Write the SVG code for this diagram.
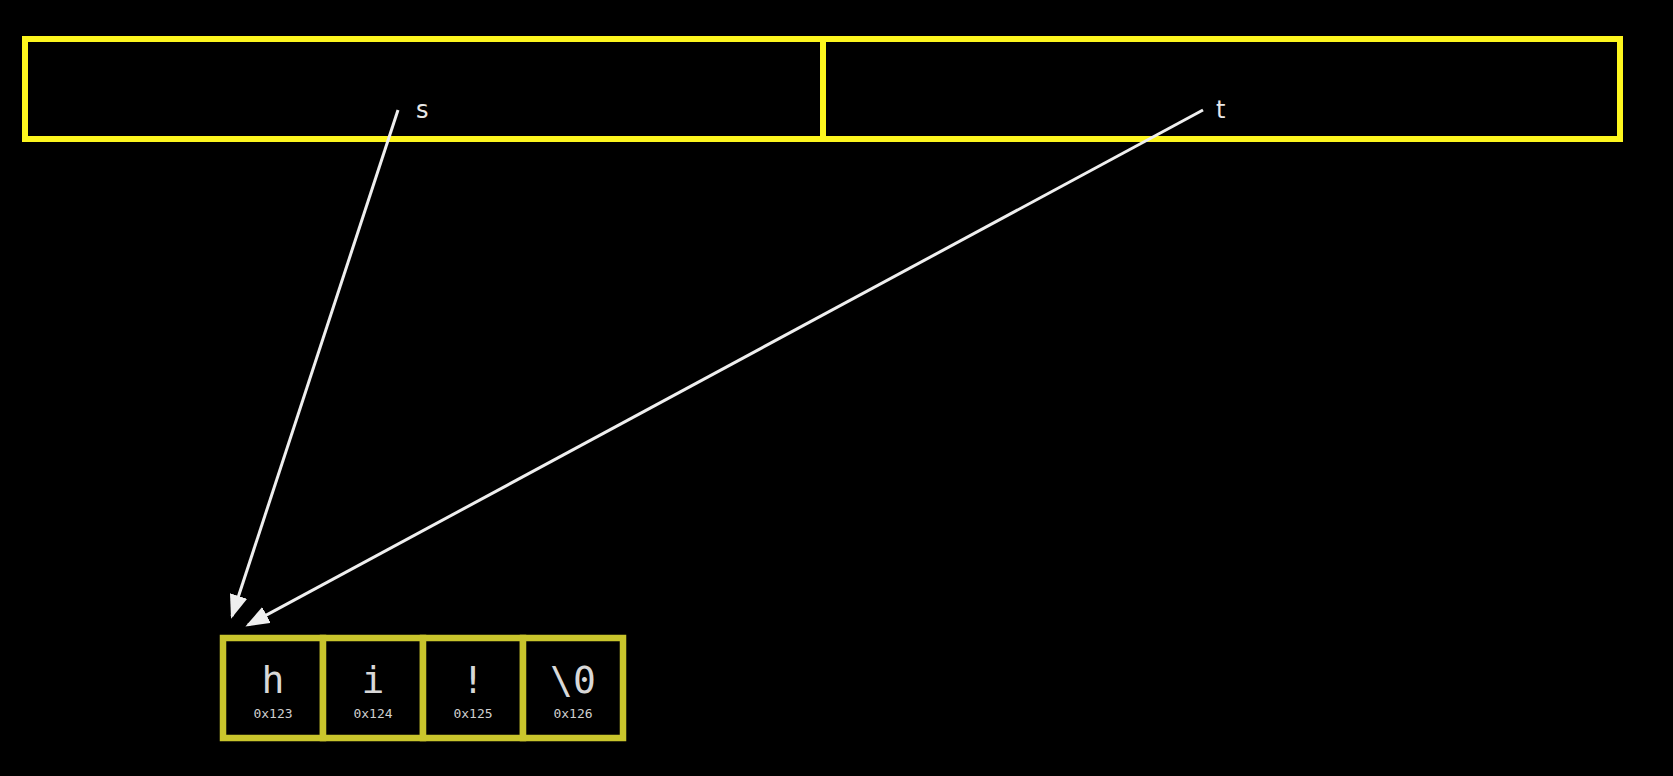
<svg xmlns="http://www.w3.org/2000/svg" width="1673" height="776" viewBox="0 0 1673 776">
<style>
.top{fill:none;stroke:#fdf61e;stroke-width:6}
.cell{fill:#000;stroke:#c9c52c;stroke-width:6.5}
.lbl{font-family:"DejaVu Sans",sans-serif;font-size:24px;fill:#e8e8e8}
.ch{font-family:"DejaVu Sans Mono",monospace;font-size:38px;fill:#d8d8d8;text-anchor:middle}
.addr{font-family:"DejaVu Sans Mono",monospace;font-size:13px;fill:#cfcfcf;text-anchor:middle}
.conn{stroke:#efefef;stroke-width:3;fill:none;marker-end:url(#ah)}
</style>
<defs>
<marker id="ah" markerWidth="8" markerHeight="6" refX="7" refY="3" orient="auto" markerUnits="strokeWidth">
<path d="M0,0 L8,3 L0,6 z" fill="#efefef"/>
</marker>
</defs>
<rect width="1673" height="776" fill="#000"/>
<g id="var-s">
<rect class="top" x="25" y="39" width="798" height="100"/>
<text class="lbl" x="416" y="118">s</text>
</g>
<g id="var-t">
<rect class="top" x="823" y="39" width="797" height="100"/>
<text class="lbl" x="1216" y="118">t</text>
</g>
<g id="cell-0">
<rect class="cell" x="223" y="638" width="100" height="100"/>
<text class="ch" x="273" y="693">h</text>
<text class="addr" x="273" y="718">0x123</text>
</g>
<g id="cell-1">
<rect class="cell" x="323" y="638" width="100" height="100"/>
<text class="ch" x="373" y="693">i</text>
<text class="addr" x="373" y="718">0x124</text>
</g>
<g id="cell-2">
<rect class="cell" x="423" y="638" width="100" height="100"/>
<text class="ch" x="473" y="693">!</text>
<text class="addr" x="473" y="718">0x125</text>
</g>
<g id="cell-3">
<rect class="cell" x="523" y="638" width="100" height="100"/>
<text class="ch" x="573" y="693">\0</text>
<text class="addr" x="573" y="718">0x126</text>
</g>
<g id="connectors">
<line class="conn" x1="398" y1="110" x2="232" y2="616"/>
<line class="conn" x1="1203" y1="110" x2="248" y2="625"/>
</g>
</svg>
